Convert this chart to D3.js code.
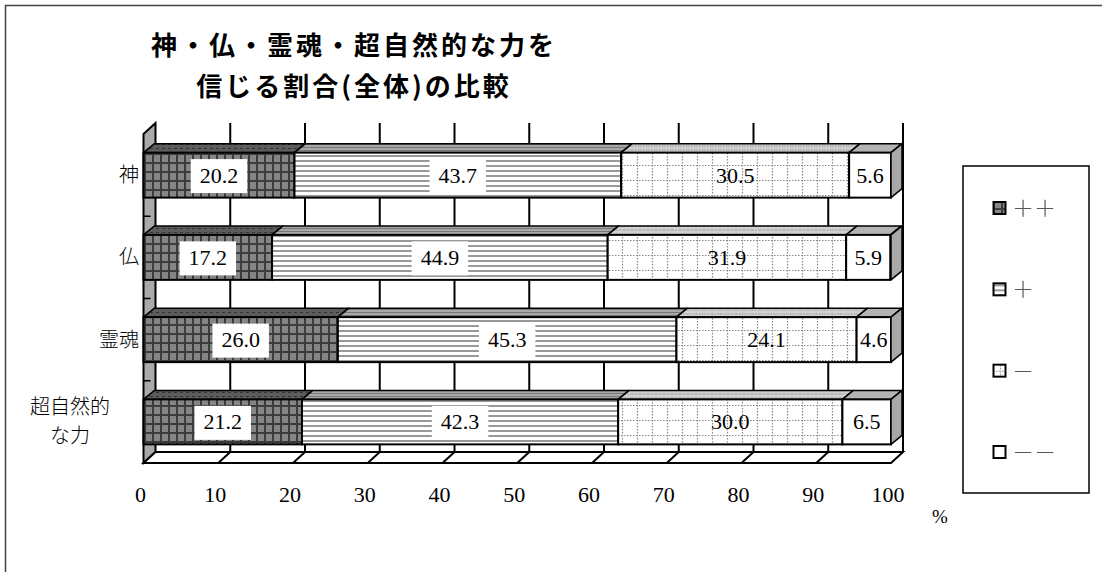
<!DOCTYPE html>
<html>
<head>
<meta charset="utf-8">
<script src="https://cdn.jsdelivr.net/npm/d3@7.9.0/dist/d3.min.js"></script>
<style>
  body { margin: 0; background: #fff; }
  svg { display: block; }
  .serif { font-family: 'Liberation Serif', 'DejaVu Serif', serif; }
  .jp { font-family: 'Noto Sans CJK JP', 'Noto Sans', sans-serif; }
</style>
</head>
<body>
<div id="chart"></div>
<script>
const categories = ['神', '仏', '霊魂', '超自然的な力'];
const categoryLines = [['神'], ['仏'], ['霊魂'], ['超自然的', 'な力']];
const seriesNames = ['＋＋', '＋', '－', '－－'];
const plusPlus = [20.2, 17.2, 26.0, 21.2];
const plus = [43.7, 44.9, 45.3, 42.3];
const minus = [30.5, 31.9, 24.1, 30.0];
const minusMinus = [5.6, 5.9, 4.6, 6.5];
const xTicks = [0, 10, 20, 30, 40, 50, 60, 70, 80, 90, 100];

const width = 1102, height = 572;
const keys = ['pp', 'p', 'm', 'mm'];
const rows = categories.map((c, i) => ({
  cat: c, pp: plusPlus[i], p: plus[i], m: minus[i], mm: minusMinus[i]
}));
const stacked = d3.stack().keys(keys)(rows);

const svg = d3.select('#chart').append('svg')
  .attr('width', width).attr('height', height);

// patterns
const defs = svg.append('defs');
function pat(id, w, h, draw) {
  const p = defs.append('pattern').attr('id', id)
    .attr('patternUnits', 'userSpaceOnUse').attr('width', w).attr('height', h);
  draw(p);
}
pat('ppFront', 8, 9, p => {
  p.append('rect').attr('width', 8).attr('height', 9).attr('fill', '#858585');
  p.append('rect').attr('width', 2).attr('height', 9).attr('fill', '#3c3c3c');
  p.append('rect').attr('width', 8).attr('height', 2).attr('fill', '#3c3c3c');
});
pat('ppTop', 6, 4, p => {
  p.append('rect').attr('width', 6).attr('height', 4).attr('fill', '#5c5c5c');
  p.append('rect').attr('width', 3).attr('height', 1).attr('fill', '#333');
});
pat('pFront', 6, 5, p => {
  p.append('rect').attr('width', 6).attr('height', 5).attr('fill', '#fff');
  p.append('rect').attr('width', 6).attr('height', 2).attr('fill', '#999');
});
pat('pTop', 6, 3, p => {
  p.append('rect').attr('width', 6).attr('height', 3).attr('fill', '#a8a8a8');
  p.append('rect').attr('width', 6).attr('height', 1).attr('fill', '#777');
});
pat('mFront', 15, 15, p => {
  p.append('rect').attr('width', 15).attr('height', 15).attr('fill', '#fff');
  p.append('path').attr('d', 'M0,0.5H15M7.5,0V15').attr('stroke', '#8a8a8a')
    .attr('stroke-width', 1.2).attr('stroke-dasharray', '1.5,1.5');
});
pat('mTop', 8, 4, p => {
  p.append('rect').attr('width', 8).attr('height', 4).attr('fill', '#d0d0d0');
  p.append('path').attr('d', 'M0,2H8').attr('stroke', '#999')
    .attr('stroke-width', 1).attr('stroke-dasharray', '1.5,1.5');
});

const fronts = { pp: 'url(#ppFront)', p: 'url(#pFront)', m: 'url(#mFront)', mm: '#fff' };
const tops = { pp: 'url(#ppTop)', p: 'url(#pTop)', m: 'url(#mTop)', mm: '#b4b4b4' };

// frame
svg.append('path').attr('d', 'M5.5,' + height + 'V5.5H' + width)
  .attr('fill', 'none').attr('stroke', '#444').attr('stroke-width', 1.5);

// scales
const x = d3.scaleLinear().domain([0, 100]).range([143.5, 891]);
const y = d3.scaleBand().domain(categories).range([134, 463])
  .paddingInner(0.453).paddingOuter(0.2265);
const wallDx = 12, wallDy = -11;
const barDx = 11, barDy = -9;
const yTop = y.range()[0], yBot = y.range()[1];

// back wall gridlines
svg.append('g').selectAll('line')
  .data(xTicks.filter(d => d > 0))
  .join('line')
  .attr('x1', d => x(d) + wallDx).attr('x2', d => x(d) + wallDx)
  .attr('y1', yTop + wallDy).attr('y2', yBot + wallDy)
  .attr('stroke', '#000').attr('stroke-width', 2);

// left wall
svg.append('path')
  .attr('d', `M${x(0)},${yTop}L${x(0) + wallDx},${yTop + wallDy}L${x(0) + wallDx},${yBot + wallDy}L${x(0)},${yBot}Z`)
  .attr('fill', '#aaa').attr('stroke', '#000').attr('stroke-width', 2);
svg.append('g').selectAll('line')
  .data(categories.slice(1))
  .join('line')
  .attr('x1', x(0)).attr('x2', x(0) + 7)
  .attr('y1', d => y(d) - y.step() * y.paddingInner() / 2)
  .attr('y2', d => y(d) - y.step() * y.paddingInner() / 2)
  .attr('stroke', '#000').attr('stroke-width', 1.5);

// floor
svg.append('path')
  .attr('d', `M${x(0)},${yBot}L${x(100)},${yBot}L${x(100) + wallDx},${yBot + wallDy}L${x(0) + wallDx},${yBot + wallDy}Z`)
  .attr('fill', '#fff').attr('stroke', '#000').attr('stroke-width', 2);
svg.append('g').selectAll('line')
  .data(xTicks.filter(d => d > 0 && d < 100))
  .join('line')
  .attr('x1', d => x(d) + wallDx).attr('x2', d => x(d))
  .attr('y1', yBot + wallDy).attr('y2', yBot)
  .attr('stroke', '#000').attr('stroke-width', 2);

// bars
const bars = svg.append('g');
categories.forEach((cat, i) => {
  const y0 = y(cat), h = y.bandwidth();
  stacked.forEach(s => {
    const k = s.key, a = x(s[i][0]), b = x(s[i][1]);
    bars.append('path')
      .attr('d', `M${a},${y0}L${a + barDx},${y0 + barDy}L${b + barDx},${y0 + barDy}L${b},${y0}Z`)
      .attr('fill', tops[k]).attr('stroke', '#000').attr('stroke-width', 1.5)
      .attr('stroke-linejoin', 'round');
    bars.append('rect')
      .attr('x', a).attr('y', y0).attr('width', b - a).attr('height', h)
      .attr('fill', fronts[k]).attr('stroke', '#000').attr('stroke-width', 2);
  });
  const e = x(100);
  bars.append('path')
    .attr('d', `M${e},${y0}L${e + barDx},${y0 + barDy}L${e + barDx},${y0 + h + barDy}L${e},${y0 + h}Z`)
    .attr('fill', '#a8a8a8').attr('stroke', '#000').attr('stroke-width', 1.5)
    .attr('stroke-linejoin', 'round');
});

// value labels
const labels = svg.append('g').attr('class', 'serif').style('font-size', '22px');
categories.forEach((cat, i) => {
  const cy = y(cat) + y.bandwidth() / 2;
  stacked.forEach(s => {
    const k = s.key, v = s[i][1] - s[i][0];
    const cx = x((s[i][0] + s[i][1]) / 2);
    const g = labels.append('g');
    const t = g.append('text').attr('x', cx).attr('y', cy + 7.5)
      .attr('text-anchor', 'middle').attr('fill', '#000')
      .text(v.toFixed(1));
    if (k === 'pp' || k === 'p') {
      const w = t.node().getComputedTextLength();
      g.insert('rect', 'text').attr('x', cx - w / 2 - 9).attr('y', cy - 16)
        .attr('width', w + 18).attr('height', 34).attr('fill', '#fff');
    }
  });
});

// x axis tick labels
svg.append('g').attr('class', 'serif').style('font-size', '22px')
  .selectAll('text').data(xTicks).join('text')
  .attr('x', d => x(d) - 3).attr('y', 502)
  .attr('text-anchor', 'middle').text(d => d);
svg.append('text').attr('class', 'serif').style('font-size', '19px')
  .attr('x', 940).attr('y', 523)
  .attr('text-anchor', 'middle').text('%');

// category labels
const catG = svg.append('g').attr('class', 'jp')
  .style('font-weight', 300).style('font-size', '20px');
categories.forEach((cat, i) => {
  const lines = categoryLines[i];
  const cy = y(cat) + y.bandwidth() / 2;
  const lh = 29;
  const cx = lines.length > 1 ? 70 : null;
  lines.forEach((ln, j) => {
    catG.append('text')
      .attr('x', cx === null ? 139 : cx)
      .attr('y', cy + 7 + (j - (lines.length - 1) / 2) * lh)
      .attr('text-anchor', cx === null ? 'end' : 'middle').text(ln);
  });
});

// title
const title = svg.append('g').attr('class', 'jp')
  .style('font-weight', 700).style('font-size', '26px')
  .style('letter-spacing', '3px').attr('text-anchor', 'middle');
title.append('text').attr('x', 354).attr('y', 55).text('神・仏・霊魂・超自然的な力を');
title.append('text').attr('x', 354).attr('y', 96).text('信じる割合(全体)の比較');

// legend
svg.append('rect').attr('x', 963).attr('y', 166).attr('width', 126).attr('height', 327)
  .attr('fill', '#fff').attr('stroke', '#000').attr('stroke-width', 1.5);
const legendY = d3.scalePoint().domain(seriesNames).range([208, 452]);
const lg = svg.append('g').attr('opacity', 0.99)
  .selectAll('g').data(seriesNames).join('g')
  .attr('transform', d => `translate(993,${legendY(d)})`);
lg.append('rect').attr('x', 0.5).attr('y', -6).attr('width', 12).attr('height', 12)
  .attr('fill', (d, i) => fronts[keys[i]]).attr('stroke', '#000').attr('stroke-width', 2);
lg.append('text').attr('class', 'jp').attr('x', 19).attr('y', 8)
  .style('font-weight', 300).style('font-size', '22px')
  .attr('fill', '#555').text(d => d);
</script>
</body>
</html>
